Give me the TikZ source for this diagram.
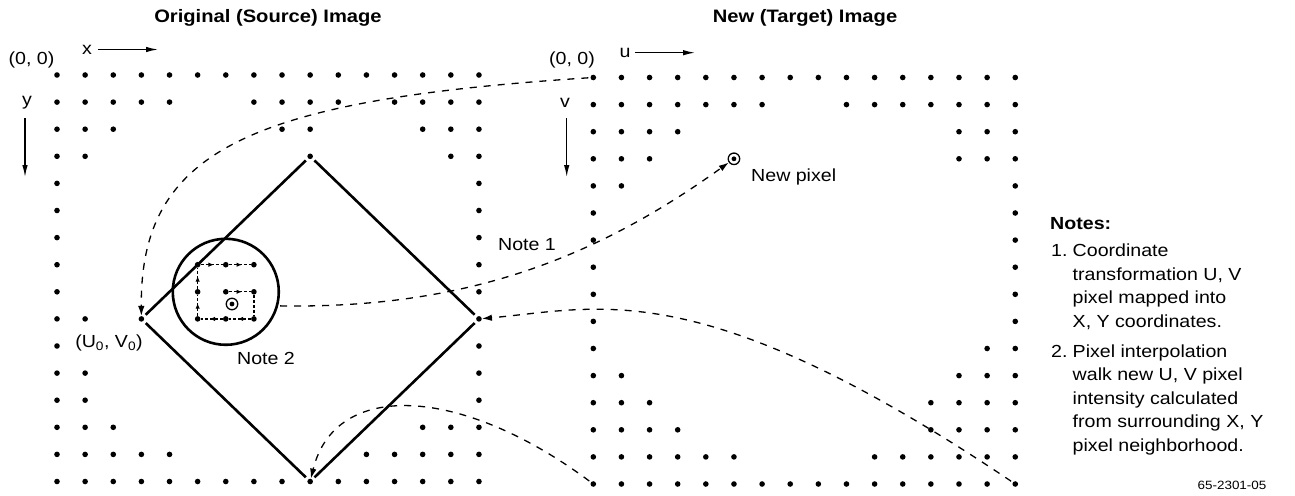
\documentclass[tikz,border=0pt]{standalone}
\usepackage{fontspec}
\setmainfont{Liberation Sans}[FakeStretch=1.12]
\usetikzlibrary{arrows.meta,decorations.markings}
\begin{document}
\begin{tikzpicture}[x=1pt,y=-1pt,
  every node/.style={font=\fontsize{17.5}{21}\selectfont, inner sep=0pt},
  titletext/.style={font=\fontsize{18}{21}\selectfont\bfseries},
  dot/.style={circle,fill=black,inner sep=0pt,minimum size=5.6pt},
  odot/.style={circle,draw=black,line width=1.3pt,minimum size=11.5pt,inner sep=0pt,
    path picture={\fill[black] (path picture bounding box.center) circle (2.4pt);}},
  ring/.style={circle,draw=black,line width=2.6pt,minimum size=106pt,inner sep=0pt},
  dline/.style={line width=2.6pt,shorten <=3pt,shorten >=3pt},
  conn/.style={line width=1.3pt,dash pattern=on 7pt off 7pt,-{Latex[length=10pt,width=6.5pt]},shorten <=2pt},
  axisarrow/.style={line width=1.3pt,-{Latex[length=12pt,width=5.5pt]}},
  walkseg/.style={line width=1.2pt,dash pattern=on 3pt off 2pt},
  walkarrow/.style={walkseg,postaction={decorate},
    decoration={markings,mark=at position 0.6 with {\arrow{Latex[length=5.5pt,width=4.5pt]}}}}
]
\useasboundingbox (0,0) rectangle (1295,495);

% ---- left (source) grid ----
\foreach \j/\cols in {
  0/{0,1,2,3,4,5,6,7,8,9,10,11,12,13,14,15},
  1/{0,1,2,3,4,7,8,9,10,12,13,14,15},
  2/{0,1,2,8,9,13,14,15},
  3/{0,1,9,14,15},
  4/{0,15}, 5/{0,15}, 6/{0,15},
  7/{0,5,6,7,15},
  8/{0,5,6,7,15},
  9/{0,1,3,5,6,7,15},
  10/{0,15},
  11/{0,1,15},
  12/{0,1,15},
  13/{0,1,2,13,14,15},
  14/{0,1,2,3,4,11,12,13,14,15},
  15/{0,1,2,3,4,5,6,7,8,9,10,11,12,13,14,15}}{
  \foreach \i in \cols {
    \node[dot] (L\i-\j) at ({57+\i*28.13},{75+\j*27.1}) {};
  }
}

% ---- right (target) grid ----
\foreach \j/\cols in {
  0/{0,1,2,3,4,5,6,7,8,9,10,11,12,13,14,15},
  1/{0,1,2,3,4,5,6,9,10,11,12,13,14,15},
  2/{0,1,2,3,13,14,15},
  3/{0,1,2,13,14,15},
  4/{0,1,15},
  5/{0,15}, 6/{0,15}, 7/{0,15}, 8/{0,15}, 9/{0,15},
  10/{0,14,15},
  11/{0,1,13,14,15},
  12/{0,1,2,12,13,14,15},
  13/{0,1,2,3,12,13,14,15},
  14/{0,1,2,3,4,5,10,11,12,13,14,15},
  15/{0,1,2,3,4,5,6,7,8,9,10,11,12,13,14,15}}{
  \foreach \i in \cols {
    \node[dot] (R\i-\j) at ({593.3+\i*28.13},{77.5+\j*27.1}) {};
  }
}

% ---- new pixel in target ----
\node[odot] (newpix) at ({593.3+5*28.13},{77.5+3*27.1}) {};
\node[anchor=west] (newpixlab) at (751,177) {New pixel};

% ---- diamond (mapped image) ----
\draw[dline] (L3-9) -- (L9-3);
\draw[dline] (L9-3) -- (L15-9);
\draw[dline] (L15-9) -- (L9-15);
\draw[dline] (L9-15) -- (L3-9);

% ---- interpolation neighbourhood ----
\node[ring] (ring) at (L6-8) {};
\node[odot] (srcpix) at (232,304) {};
\draw[walkarrow] (L6-8) -- (L7-8);
\draw[walkseg] (L7-8) -- (L7-9);
\draw[walkarrow] (L7-9) -- (L6-9);
\draw[walkarrow] (L6-9) -- (L5-9);
\draw[walkarrow] (L5-9) -- (L5-8);
\draw[walkarrow] (L5-8) -- (L5-7);
\draw[walkarrow] (L5-7) -- (L6-7);
\draw[walkarrow] (L6-7) -- (L7-7);

% ---- mapping connectors ----
\draw[conn] (R0-0) .. controls (250,100) and (140,150) .. (L3-9);
\draw[conn] (ring.-15) .. controls (470,309) and (600,255) .. (newpix);
\draw[conn] (R15-15) .. controls (700,272) and (600,308) .. (L15-9);
\draw[conn] (R0-15) .. controls (460,385) and (335,380) .. (L9-15);

% ---- titles and labels ----
\node[titletext] (t1) at (268,18) {Original (Source) Image};
\node[titletext] (t2) at (805,18) {New (Target) Image};

\node (o1) at (31.5,60) {(0, 0)};
\node (o2) at (572,60) {(0, 0)};

\node (xlab) at (87,50) {x};
\coordinate (xs) at (98,49.5);
\coordinate (xe) at (158,49.5);
\draw[axisarrow] (xs) -- (xe);

\node (ylab) at (27,102.5) {y};
\coordinate (ys) at (25,118);
\coordinate (ye) at (25,177);
\draw[axisarrow] (ys) -- (ye);

\node (ulab) at (625,52.5) {u};
\coordinate (us) at (635,52.7);
\coordinate (ue) at (695,52.7);
\draw[axisarrow] (us) -- (ue);

\node (vlab) at (565,103) {v};
\coordinate (vs) at (566.7,118);
\coordinate (ve) at (566.7,177);
\draw[axisarrow] (vs) -- (ve);

\node (note1) at (527,245) {Note 1};
\node (note2) at (266,358) {Note 2};
\node (uv0) at (109,343) {(U\textsubscript{0}, V\textsubscript{0})};

% ---- notes block ----
\node[anchor=base west,font=\fontsize{17.5}{21}\selectfont\bfseries] (nh) at (1050,229) {Notes:};
\node[anchor=base west] (n1a) at (1051,256.5) {1.};
\node[anchor=base west] (n1b) at (1072.5,256.5) {Coordinate};
\node[anchor=base west] (n1c) at (1072.5,280) {transformation U, V};
\node[anchor=base west] (n1d) at (1072.5,303.5) {pixel mapped into};
\node[anchor=base west] (n1e) at (1072.5,327) {X, Y coordinates.};
\node[anchor=base west] (n2a) at (1051,357) {2.};
\node[anchor=base west] (n2b) at (1072.5,357) {Pixel interpolation};
\node[anchor=base west] (n2c) at (1072.5,380.5) {walk new U, V pixel};
\node[anchor=base west] (n2d) at (1072.5,404) {intensity calculated};
\node[anchor=base west] (n2e) at (1072.5,427.5) {from surrounding X, Y};
\node[anchor=base west] (n2f) at (1072.5,451) {pixel neighborhood.};

\node[font=\fontsize{12}{14}\selectfont] (fig) at (1232,485) {65-2301-05};
\end{tikzpicture}
\end{document}
